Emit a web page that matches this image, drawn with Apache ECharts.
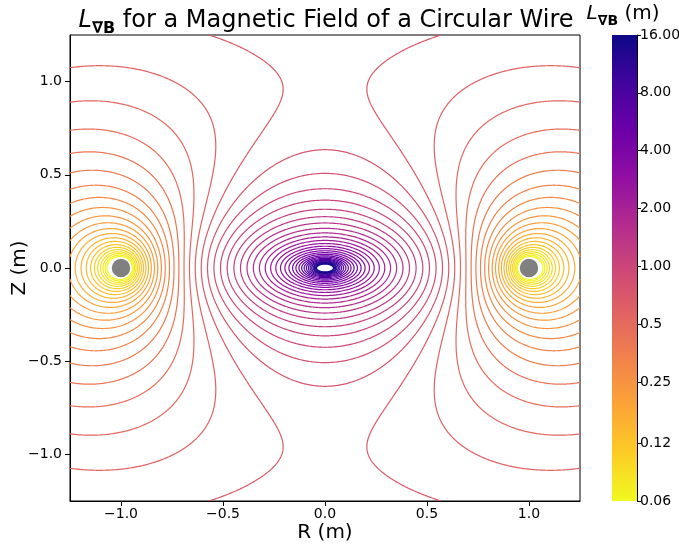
<!DOCTYPE html>
<html>
<head>
<meta charset="utf-8">
<script src="https://cdn.jsdelivr.net/npm/echarts@6/dist/echarts.min.js"></script>
<style>
  html, body { margin: 0; padding: 0; background: #fff; }
  #chart { width: 679px; height: 548px; }
</style>
</head>
<body>
<div id="chart"></div>
<script>
// plot ranges and ticks (m)
const R_RANGE = [-1.25, 1.25];
const Z_RANGE = [-1.25, 1.25];
const R_TICKS = [-1.0, -0.5, 0.0, 0.5, 1.0];
const Z_TICKS = [-1.0, -0.5, 0.0, 0.5, 1.0];

// contour levels of L_gradB (m), 50 log-spaced steps from 0.06 to 16
const LEVELS = [
  0.06, 0.06725, 0.07537, 0.08447, 0.09467, 0.1061, 0.1189, 0.1333, 0.1494, 0.1674,
  0.1876, 0.2103, 0.2356, 0.2641, 0.2960, 0.3317, 0.3718, 0.4167, 0.4670, 0.5234,
  0.5866, 0.6574, 0.7368, 0.8258, 0.9255, 1.037, 1.163, 1.303, 1.460, 1.637,
  1.834, 2.056, 2.304, 2.582, 2.894, 3.243, 3.635, 4.074, 4.566, 5.117,
  5.735, 6.427, 7.204, 8.073, 9.048, 10.14, 11.37, 12.74, 14.28, 16.0
];

// colorbar ticks (m) and their labels
const CBAR_VALUES = [0.06, 0.12, 0.25, 0.5, 1, 2, 4, 8, 16];
const CBAR_LABELS = ['0.06', '0.12', '0.25', '0.5', '1.00', '2.00', '4.00', '8.00', '16.00'];

// wire cross-sections in the R-Z plane, loop radius
const WIRES = [[-1.0, 0.0], [1.0, 0.0]];
const LOOP_RADIUS = 1.0;

// plasma colormap stops
const PLASMA = ['#0d0887', '#41049d', '#6a00a8', '#8f0da4', '#b12a90', '#cc4778',
                '#e16462', '#f2844b', '#fca636', '#fcce25', '#f0f921'];

const L_MIN = LEVELS[0], L_MAX = LEVELS[LEVELS.length - 1];

function hexRgb(h) {
  return [parseInt(h.slice(1, 3), 16), parseInt(h.slice(3, 5), 16), parseInt(h.slice(5, 7), 16)];
}
function plasmaAt(t) {
  t = Math.max(0, Math.min(1, t));
  const p = t * (PLASMA.length - 1);
  const i = Math.min(Math.floor(p), PLASMA.length - 2);
  const f = p - i;
  const a = hexRgb(PLASMA[i]), b = hexRgb(PLASMA[i + 1]);
  const c = a.map((v, k) => Math.round(v + (b[k] - v) * f));
  return 'rgb(' + c.join(',') + ')';
}
// reversed plasma on a log scale
function levelColor(L) {
  return plasmaAt(1 - Math.log(L / L_MIN) / Math.log(L_MAX / L_MIN));
}

// complete elliptic integrals K(m), E(m) by AGM
function ellipKE(m) {
  let a = 1, b = Math.sqrt(1 - m), sum = 0.5 * m, p = 0.5;
  for (let n = 0; n < 40; n++) {
    const c = (a - b) / 2;
    if (Math.abs(c) < 1e-16) break;
    const an = (a + b) / 2;
    b = Math.sqrt(a * b);
    a = an;
    p *= 2;
    sum += p * c * c;
  }
  const K = Math.PI / (2 * a);
  return [K, K * (1 - sum)];
}

// |B| of a current loop (arbitrary units)
function bMag(r, z) {
  const rho = Math.abs(r), a = LOOP_RADIUS;
  const al2 = (a - rho) * (a - rho) + z * z;
  const be2 = (a + rho) * (a + rho) + z * z;
  const be = Math.sqrt(be2);
  const [K, E] = ellipKE(1 - al2 / be2);
  const bz = ((a * a - rho * rho - z * z) * E + al2 * K) / (al2 * be);
  let br = 0;
  if (rho > 1e-9) br = z * ((a * a + rho * rho + z * z) * E - al2 * K) / (al2 * be * rho);
  return Math.hypot(br, bz);
}

// log2 of L = |B| / |grad |B|| on a grid
const NX = 401, NY = 401;
const xs = [], ys = [];
for (let i = 0; i < NX; i++) xs.push(R_RANGE[0] + (R_RANGE[1] - R_RANGE[0]) * i / (NX - 1));
for (let j = 0; j < NY; j++) ys.push(Z_RANGE[0] + (Z_RANGE[1] - Z_RANGE[0]) * j / (NY - 1));
const field = new Float64Array(NX * NY);
const h = 1e-5;
for (let j = 0; j < NY; j++) {
  for (let i = 0; i < NX; i++) {
    const r = xs[i], z = ys[j];
    const b = bMag(r, z);
    const gr = (bMag(r + h, z) - bMag(r - h, z)) / (2 * h);
    const gz = (bMag(r, z + h) - bMag(r, z - h)) / (2 * h);
    let v = Math.log2(b / Math.hypot(gr, gz));
    if (!isFinite(v)) {
      const nearWire = WIRES.some(w => Math.hypot(r - w[0], z - w[1]) < 0.1);
      v = nearWire ? -20 : 20;
    }
    field[j * NX + i] = v;
  }
}

// marching squares, chained into polylines
function contourLines(lv) {
  const H = NY * (NX - 1);
  const pts = new Map();
  function pt(id, i0, j0, i1, j1) {
    if (!pts.has(id)) {
      const v0 = field[j0 * NX + i0], v1 = field[j1 * NX + i1];
      const t = (lv - v0) / (v1 - v0);
      pts.set(id, { x: xs[i0] + t * (xs[i1] - xs[i0]), y: ys[j0] + t * (ys[j1] - ys[j0]), nb: [] });
    }
    return id;
  }
  function link(a, b) { pts.get(a).nb.push(b); pts.get(b).nb.push(a); }
  for (let j = 0; j < NY - 1; j++) {
    for (let i = 0; i < NX - 1; i++) {
      const a00 = field[j * NX + i] >= lv, a10 = field[j * NX + i + 1] >= lv;
      const a01 = field[(j + 1) * NX + i] >= lv, a11 = field[(j + 1) * NX + i + 1] >= lv;
      const e = [];
      const bottom = a00 !== a10 ? pt(j * (NX - 1) + i, i, j, i + 1, j) : -1;
      const right = a10 !== a11 ? pt(H + j * NX + i + 1, i + 1, j, i + 1, j + 1) : -1;
      const top = a01 !== a11 ? pt((j + 1) * (NX - 1) + i, i, j + 1, i + 1, j + 1) : -1;
      const left = a00 !== a01 ? pt(H + j * NX + i, i, j, i, j + 1) : -1;
      [bottom, right, top, left].forEach(x => { if (x >= 0) e.push(x); });
      if (e.length === 2) link(e[0], e[1]);
      else if (e.length === 4) {
        const c = (field[j * NX + i] + field[j * NX + i + 1] + field[(j + 1) * NX + i] + field[(j + 1) * NX + i + 1]) / 4 >= lv;
        if (c === a00) { link(bottom, right); link(top, left); }
        else { link(left, bottom); link(right, top); }
      }
    }
  }
  const seen = new Set(), lines = [];
  function walk(start) {
    const line = [];
    let prev = -1, cur = start;
    while (cur !== undefined && !seen.has(cur)) {
      seen.add(cur);
      const p = pts.get(cur);
      line.push([p.x, p.y]);
      const nxt = p.nb.find(n => n !== prev && !seen.has(n));
      prev = cur; cur = nxt;
    }
    const last = pts.get(prev);
    if (line.length > 2 && last.nb.includes(start)) line.push(line[0].slice());
    if (line.length > 1) lines.push(line);
  }
  pts.forEach((p, id) => { if (p.nb.length === 1 && !seen.has(id)) walk(id); });
  pts.forEach((p, id) => { if (!seen.has(id)) walk(id); });
  return lines;
}

const contourData = [];
LEVELS.forEach(L => {
  const color = levelColor(L);
  contourLines(Math.log2(L)).forEach(line => {
    contourData.push({ coords: line, lineStyle: { color: color } });
  });
});

const FONT = 'DejaVu Sans';
const fmt = v => v.toFixed(1).replace('-', '\u2212');
const CBAR_POS = CBAR_VALUES.map(v => Math.log2(v));
const cbarLabel = v => {
  let best = 0;
  CBAR_POS.forEach((p, i) => { if (Math.abs(p - v) < Math.abs(CBAR_POS[best] - v)) best = i; });
  return CBAR_LABELS[best];
};

const chart = echarts.init(document.getElementById('chart'));
const option = {
  animation: false,
  backgroundColor: '#fff',
  grid: [
    { left: 70, top: 35, width: 510, height: 466, show: true, borderColor: '#000', borderWidth: 1,
      containLabel: false, outerBoundsMode: 'none' },
    { left: 612, top: 35, width: 25, height: 466, containLabel: false, outerBoundsMode: 'none' }
  ],
  xAxis: [
    {
      type: 'value', gridIndex: 0, min: R_RANGE[0], max: R_RANGE[1],
      name: 'R (m)', nameLocation: 'middle', nameGap: 22, nameMoveOverlap: false,
      nameTextStyle: { fontFamily: FONT, fontSize: 20, color: '#000' },
      axisLine: { onZero: false, lineStyle: { color: '#000' } },
      axisTick: { customValues: R_TICKS, length: 5, lineStyle: { color: '#000' } },
      axisLabel: { customValues: R_TICKS, formatter: fmt, fontFamily: FONT, fontSize: 14, color: '#000', margin: 6 },
      splitLine: { show: false }
    },
    { type: 'value', gridIndex: 1, min: 0, max: 1, show: false }
  ],
  yAxis: [
    {
      type: 'value', gridIndex: 0, min: Z_RANGE[0], max: Z_RANGE[1],
      name: 'Z (m)', nameLocation: 'middle', nameGap: 40, nameMoveOverlap: false,
      nameTextStyle: { fontFamily: FONT, fontSize: 20, color: '#000' },
      axisLine: { onZero: false, lineStyle: { color: '#000' } },
      axisTick: { customValues: Z_TICKS, length: 5, lineStyle: { color: '#000' } },
      axisLabel: { customValues: Z_TICKS, formatter: fmt, fontFamily: FONT, fontSize: 14, color: '#000', margin: 8 },
      splitLine: { show: false }
    },
    {
      type: 'value', gridIndex: 1, min: Math.log2(L_MIN), max: Math.log2(L_MAX), position: 'right',
      axisLine: { show: true, onZero: false, lineStyle: { color: '#000' } },
      axisTick: { show: true, customValues: CBAR_POS, length: 4, lineStyle: { color: '#000' } },
      axisLabel: { customValues: CBAR_POS, formatter: cbarLabel, fontFamily: FONT, fontSize: 14, color: '#000', margin: 3 },
      splitLine: { show: false }
    }
  ],
  graphic: [
    {
      type: 'rect', z: 0, shape: { x: 612, y: 35, width: 25, height: 466 },
      style: {
        fill: {
          type: 'linear', x: 0, y: 0, x2: 0, y2: 1,
          colorStops: PLASMA.map((c, i) => ({ offset: i / (PLASMA.length - 1), color: c }))
        }
      }
    },
    {
      type: 'text', x: 326, y: 21,
      style: {
        text: '{l|L}{s|\u2207B}{t| for a Magnetic Field of a Circular Wire}',
        align: 'center', verticalAlign: 'middle',
        rich: {
          l: { fontFamily: FONT, fontSize: 24, fontStyle: 'italic', fill: '#000' },
          s: { fontFamily: FONT, fontSize: 16, fontWeight: 'bold', padding: [15, 0, 0, 0], fill: '#000' },
          t: { fontFamily: FONT, fontSize: 24, fill: '#000' }
        }
      }
    },
    {
      type: 'text', x: 623, y: 14,
      style: {
        text: '{l|L}{s|\u2207B}{t| (m)}',
        align: 'center', verticalAlign: 'middle',
        rich: {
          l: { fontFamily: FONT, fontSize: 20, fontStyle: 'italic', fill: '#000' },
          s: { fontFamily: FONT, fontSize: 14, fontWeight: 'bold', padding: [14, 0, 0, 0], fill: '#000' },
          t: { fontFamily: FONT, fontSize: 20, fill: '#000' }
        }
      }
    }
  ],
  series: [
    {
      type: 'lines', coordinateSystem: 'cartesian2d', xAxisIndex: 0, yAxisIndex: 0,
      polyline: true, silent: true, z: 2,
      lineStyle: { width: 1.2, opacity: 1 },
      data: contourData
    },
    {
      type: 'scatter', xAxisIndex: 0, yAxisIndex: 0, z: 5, silent: true,
      symbolSize: 20,
      itemStyle: { color: '#808080', borderColor: '#fff', borderWidth: 1.5, opacity: 1 },
      data: WIRES
    }
  ]
};
chart.setOption(option);
</script>
</body>
</html>
